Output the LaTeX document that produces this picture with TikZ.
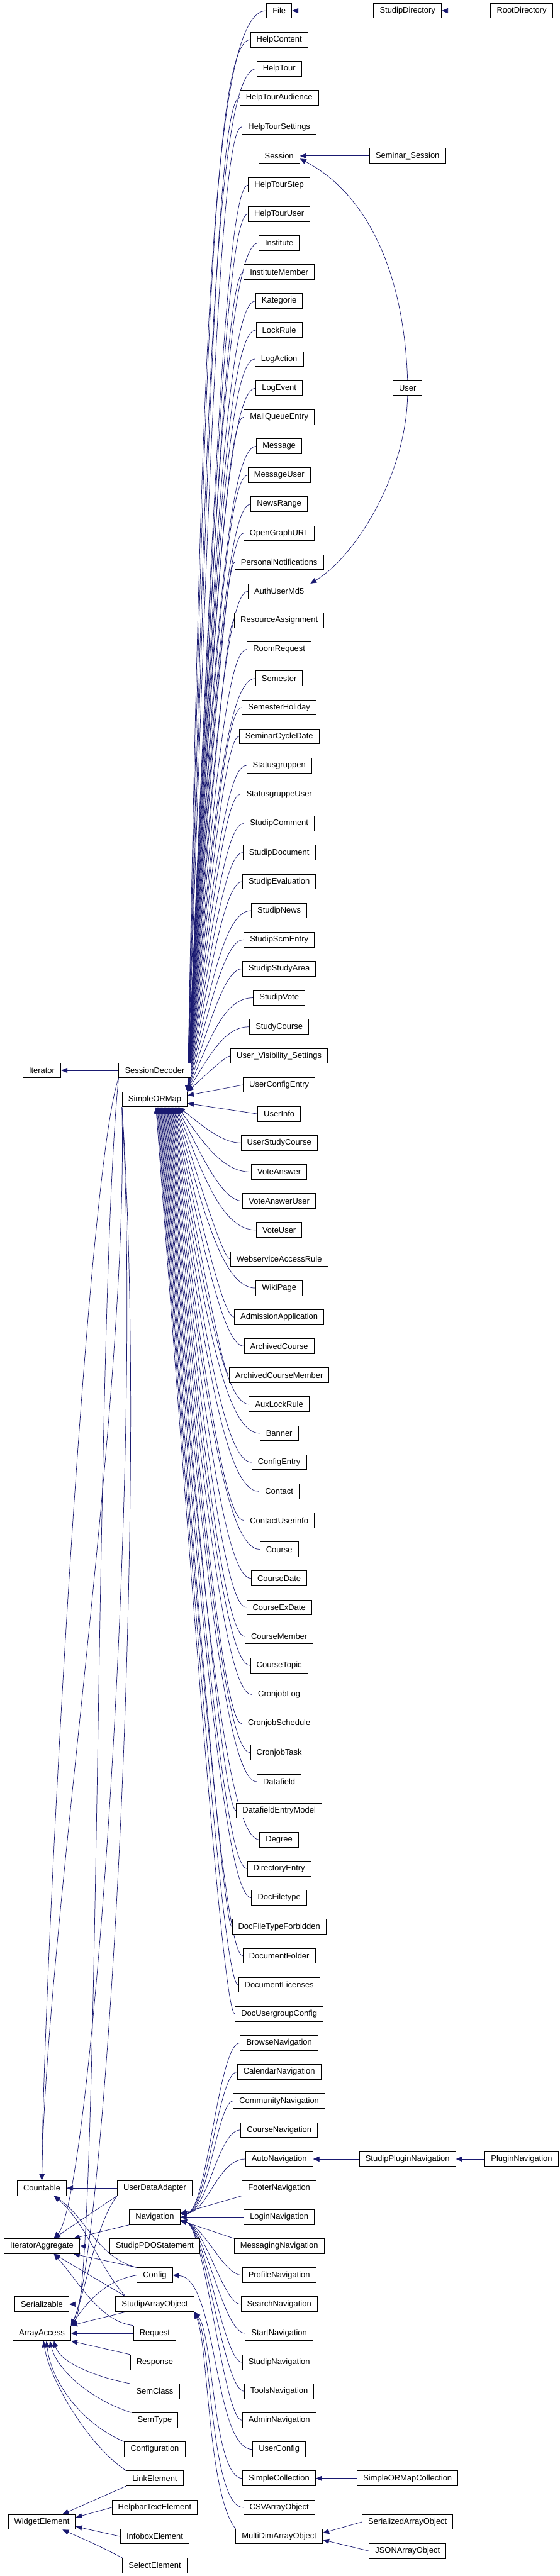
\documentclass[tikz,border=0pt]{standalone}
\usepackage{fontspec}
\setmainfont{Liberation Sans}
\usetikzlibrary{arrows.meta, backgrounds}
\definecolor{edgeblue}{RGB}{25,25,112}
\newcommand{\boxfont}{\fontsize{14.2pt}{17pt}\selectfont}

\begin{document}
\begin{tikzpicture}[
  x=1pt, y=-50.67pt,
  cls/.style={draw=black, line width=1.1pt, fill=white, minimum height=26pt,
              inner xsep=10.5pt, inner ysep=0pt, font=\boxfont},
  inh/.style={draw=edgeblue, line width=0.8pt,
              -{Triangle[length=11pt, width=9pt]}}
]
\useasboundingbox (0,-0.369) rectangle (976,88.363);

%--- Interfaces (left column) ---
\node[cls] (Iterator)          at (73,36.5) {Iterator};
\node[cls] (Countable)         at (73,75)   {Countable};
\node[cls] (IteratorAggregate) at (73,77)   {IteratorAggregate};
\node[cls] (Serializable)      at (73,79)   {Serializable};
\node[cls] (ArrayAccess)       at (73,80)   {ArrayAccess};
\node[cls] (WidgetElement)     at (73,86.5) {WidgetElement};

%--- Second column ---
\node[cls] (SessionDecoder)     at (270,36.5) {SessionDecoder};
\node[cls] (SimpleORMap)        at (270,37.5) {SimpleORMap};
\node[cls] (UserDataAdapter)    at (270,75)   {UserDataAdapter};
\node[cls] (Navigation)         at (270,76)   {Navigation};
\node[cls] (StudipPDOStatement) at (270,77)   {StudipPDOStatement};
\node[cls] (Config)             at (270,78)   {Config};
\node[cls] (StudipArrayObject)  at (270,79)   {StudipArrayObject};
\node[cls] (Request)            at (270,80)   {Request};
\node[cls] (Response)           at (270,81)   {Response};
\node[cls] (SemClass)           at (270,82)   {SemClass};
\node[cls] (SemType)            at (270,83)   {SemType};
\node[cls] (Configuration)      at (270,84)   {Configuration};
\node[cls] (LinkElement)        at (270,85)   {LinkElement};
\node[cls] (HelpbarTextElement) at (270,86)   {HelpbarTextElement};
\node[cls] (InfoboxElement)     at (270,87)   {InfoboxElement};
\node[cls] (SelectElement)      at (270,88)   {SelectElement};

%--- Third column, single nodes ---
\node[cls] (Session)                at (487,5)  {Session};
\node[cls] (UserVisibilitySettings) at (487,36) {User\_Visibility\_Settings};
\node[cls] (UserConfigEntry)        at (487,37) {UserConfigEntry};
\node[cls] (UserInfo)               at (487,38) {UserInfo};
\node[cls] (FooterNavigation)       at (487,75) {FooterNavigation};
\node[cls] (LoginNavigation)        at (487,76) {LoginNavigation};
\node[cls] (MessagingNavigation)    at (487,77) {MessagingNavigation};
\node[cls] (UserConfig)             at (487,84) {UserConfig};
\node[cls] (SimpleCollection)       at (487,85) {SimpleCollection};
\node[cls] (CSVArrayObject)         at (487,86) {CSVArrayObject};
\node[cls] (MultiDimArrayObject)    at (487,87) {MultiDimArrayObject};

%--- Right columns ---
\node[cls] (StudipDirectory)        at (711,0)    {StudipDirectory};
\node[cls] (RootDirectory)          at (910,0)    {RootDirectory};
\node[cls] (SeminarSession)         at (711,5)    {Seminar\_Session};
\node[cls] (User)                   at (711,13)   {User};
\node[cls] (StudipPluginNavigation) at (711,74)   {StudipPluginNavigation};
\node[cls] (PluginNavigation)       at (910,74)   {PluginNavigation};
\node[cls] (SimpleORMapCollection)  at (711,85)   {SimpleORMapCollection};
\node[cls] (SerializedArrayObject)  at (711,86.5) {SerializedArrayObject};
\node[cls] (JSONArrayObject)        at (711,87.5) {JSONArrayObject};

% SimpleORMap subclasses above it
\foreach \cname/\crow in {File/0, HelpContent/1, HelpTour/2, HelpTourAudience/3,
    HelpTourSettings/4, HelpTourStep/6, HelpTourUser/7, Institute/8,
    InstituteMember/9, Kategorie/10, LockRule/11, LogAction/12, LogEvent/13,
    MailQueueEntry/14, Message/15, MessageUser/16, NewsRange/17,
    OpenGraphURL/18, PersonalNotifications/19, AuthUserMd5/20,
    ResourceAssignment/21, RoomRequest/22, Semester/23, SemesterHoliday/24,
    SeminarCycleDate/25, Statusgruppen/26, StatusgruppeUser/27,
    StudipComment/28, StudipDocument/29, StudipEvaluation/30, StudipNews/31,
    StudipScmEntry/32, StudipStudyArea/33, StudipVote/34, StudyCourse/35}
{
  \node[cls] (\cname) at (487,\crow) {\cname};
  \pgfmathsetmacro\bx{min(365+5*\crow,395)}
  \pgfmathsetmacro\cx{\bx+0.35*(326-\bx)}
  \pgfmathsetmacro\cy{\crow+0.35*(37.234-\crow)}
  \begin{scope}[on background layer]
    \draw[inh] (\cname.west) .. controls (\bx,\crow) and (\cx,\cy) .. (SimpleORMap.north east);
  \end{scope}
}

% SimpleORMap subclasses below it
\foreach \cname/\crow in {UserStudyCourse/39, VoteAnswer/40, VoteAnswerUser/41,
    VoteUser/42, WebserviceAccessRule/43, WikiPage/44, AdmissionApplication/45,
    ArchivedCourse/46, ArchivedCourseMember/47, AuxLockRule/48, Banner/49,
    ConfigEntry/50, Contact/51, ContactUserinfo/52, Course/53, CourseDate/54,
    CourseExDate/55, CourseMember/56, CourseTopic/57, CronjobLog/58,
    CronjobSchedule/59, CronjobTask/60, Datafield/61, DatafieldEntryModel/62,
    Degree/63, DirectoryEntry/64, DocFiletype/65, DocFileTypeForbidden/66,
    DocumentFolder/67, DocumentLicenses/68, DocUsergroupConfig/69}
{
  \node[cls] (\cname) at (487,\crow) {\cname};
  \pgfmathsetmacro\dx{42-(\crow-39)*1.33}
  \pgfmathsetmacro\cx{390+0.4*(\dx-120)}
  \pgfmathsetmacro\cy{\crow+0.4*(37.766-\crow)}
  \begin{scope}[on background layer]
    \draw[inh] (\cname.west) .. controls (390,\crow) and (\cx,\cy) .. ([xshift=\dx pt]SimpleORMap.south);
  \end{scope}
}

% Navigation subclasses above it
\foreach \cname/\crow in {BrowseNavigation/70, CalendarNavigation/71,
    CommunityNavigation/72, CourseNavigation/73, AutoNavigation/74}
{
  \node[cls] (\cname) at (487,\crow) {\cname};
  \begin{scope}[on background layer]
    \draw[inh] (\cname.west) .. controls (380,\crow) and (362,75.85) .. ([yshift=6pt]Navigation.east);
  \end{scope}
}

% Navigation subclasses below it
\foreach \cname/\crow in {ProfileNavigation/78, SearchNavigation/79,
    StartNavigation/80, StudipNavigation/81, ToolsNavigation/82,
    AdminNavigation/83}
{
  \node[cls] (\cname) at (487,\crow) {\cname};
  \begin{scope}[on background layer]
    \draw[inh] (\cname.west) .. controls (390,\crow) and (358,76.35) .. ([yshift=-6pt]Navigation.east);
  \end{scope}
}

\begin{scope}[on background layer]
%--- Top right chains ---
\draw[inh] (StudipDirectory) -- (File);
\draw[inh] (RootDirectory) -- (StudipDirectory);
\draw[inh] (SeminarSession) -- (Session);
\draw[inh] (User.north) .. controls (705,9) and (640,6.3) .. ([yshift=-5pt]Session.east);
\draw[inh] (User.south) .. controls (708,16) and (620,18.8) .. (AuthUserMd5.north east);

% near SimpleORMap
\draw[inh] (UserVisibilitySettings.west) .. controls (395,36) and (371,36.43) .. (SimpleORMap.north east);
\draw[inh] (UserConfigEntry.west) -- ([yshift=7pt]SimpleORMap.east);
\draw[inh] (UserInfo.west) -- ([yshift=-7pt]SimpleORMap.east);

%--- Navigation, straight ones ---
\draw[inh] (FooterNavigation.south west) -- ([yshift=6pt]Navigation.east);
\draw[inh] (LoginNavigation) -- (Navigation);
\draw[inh] (MessagingNavigation.north west) -- ([yshift=-6pt]Navigation.east);
\draw[inh] (StudipPluginNavigation) -- (AutoNavigation);
\draw[inh] (PluginNavigation) -- (StudipPluginNavigation);

%--- Config and array objects ---
\draw[inh] (UserConfig.west) .. controls (372,84) and (380,78.1) .. (Config.east);
\draw[inh] (SimpleCollection.west) .. controls (372,85) and (372,80) .. (StudipArrayObject.south east);
\draw[inh] (CSVArrayObject.west) .. controls (368,86) and (368,80.2) .. (StudipArrayObject.south east);
\draw[inh] (MultiDimArrayObject.north west) .. controls (362,85.5) and (364,80.4) .. (StudipArrayObject.south east);
\draw[inh] (SimpleORMapCollection) -- (SimpleCollection);
\draw[inh] (SerializedArrayObject.west) -- ([yshift=6pt]MultiDimArrayObject.east);
\draw[inh] (JSONArrayObject.west) -- ([yshift=-6pt]MultiDimArrayObject.east);

%--- Long ones down to the interfaces ---
\draw[inh] (SessionDecoder) -- (Iterator);
\draw[inh] (SessionDecoder.south west) .. controls (150,40) and (75,68) .. (Countable.north);
\draw[inh] (SessionDecoder.south west) .. controls (165,45) and (175,78.5) .. (ArrayAccess.north east);
\draw[inh] (SimpleORMap.south west) .. controls (225,48) and (80,66) .. (Countable.north);
\draw[inh] (SimpleORMap.south west) .. controls (250,50) and (160,75.3) .. ([xshift=21pt]IteratorAggregate.north);
\draw[inh] (SimpleORMap.south west) .. controls (262,52) and (180,77.5) .. (ArrayAccess.north east);

%--- Second column to the interfaces ---
\draw[inh] (UserDataAdapter) -- (Countable);
\draw[inh] (UserDataAdapter.south west) -- ([xshift=21pt]IteratorAggregate.north);
\draw[inh] (UserDataAdapter.south west) .. controls (165,76.3) and (150,78.6) .. (ArrayAccess.north east);
\draw[inh] (Navigation.south west) -- ([xshift=-11pt]IteratorAggregate.north east);
\draw[inh] (StudipPDOStatement) -- (IteratorAggregate);
\draw[inh] (Config.north west) .. controls (170,77.4) and (150,76) .. ([xshift=21pt]Countable.south);
\draw[inh] (Config.north west) -- ([xshift=-11pt]IteratorAggregate.south east);
\draw[inh] (Config.west) .. controls (180,78.2) and (150,79) .. (ArrayAccess.north east);
\draw[inh] ([xshift=18pt]StudipArrayObject.north west) .. controls (175,77.8) and (150,76.2) .. ([xshift=21pt]Countable.south);
\draw[inh] ([xshift=18pt]StudipArrayObject.north west) -- ([xshift=21pt]IteratorAggregate.south);
\draw[inh] (StudipArrayObject) -- (Serializable);
\draw[inh] ([xshift=18pt]StudipArrayObject.south west) -- (ArrayAccess.north east);
\draw[inh] (Request) -- (ArrayAccess);
\draw[inh] (Request.north west) .. controls (175,79.6) and (140,78.3) .. ([xshift=21pt]IteratorAggregate.south);
\draw[inh] (Response.north west) -- (ArrayAccess.south east);
\draw[inh] (SemClass.north west) .. controls (165,81.5) and (105,81) .. ([xshift=21pt]ArrayAccess.south);
\draw[inh] (SemType.north west) .. controls (160,82.3) and (100,81.3) .. ([xshift=14pt]ArrayAccess.south);
\draw[inh] (Configuration.north west) .. controls (150,83.2) and (90,81.8) .. ([xshift=8pt]ArrayAccess.south);
\draw[inh] (LinkElement.north west) .. controls (150,83.8) and (85,81.5) .. ([xshift=3pt]ArrayAccess.south);

%--- Widget elements ---
\draw[inh] (LinkElement.south west) .. controls (170,85.7) .. ([xshift=36pt]WidgetElement.north);
\draw[inh] (HelpbarTextElement.west) -- ([yshift=8pt]WidgetElement.east);
\draw[inh] (InfoboxElement.west) -- ([yshift=-8pt]WidgetElement.east);
\draw[inh] (SelectElement.north west) .. controls (170,87.3) .. ([xshift=36pt]WidgetElement.south);
\end{scope}

\end{tikzpicture}
\end{document}
